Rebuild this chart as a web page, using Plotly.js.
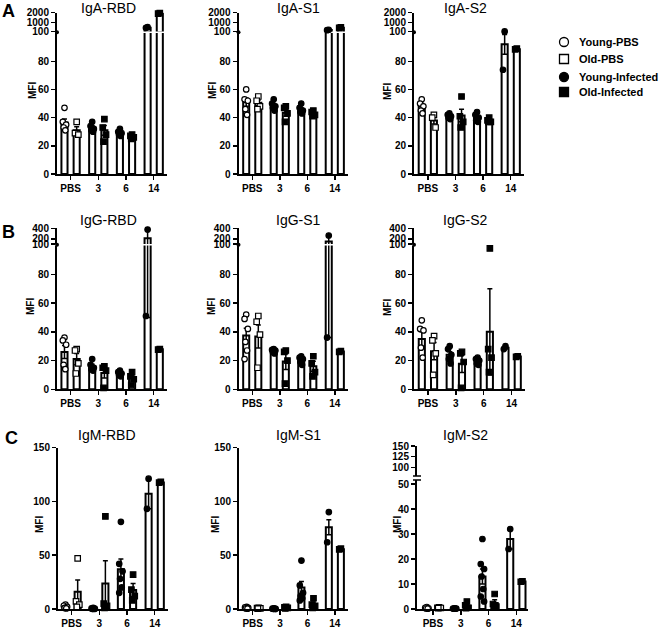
<!DOCTYPE html>
<html><head><meta charset="utf-8">
<script src="https://cdn.plot.ly/plotly-3.0.1.min.js"></script>
<style>html,body{margin:0;padding:0;background:#fff}#chart{width:660px;height:628px}</style>
</head><body><div id="chart"></div>
<script>
// ---------------- DATA ----------------
const groups = ["PBS", "3", "6", "14"];
const seriesNames = ["Young-PBS", "Old-PBS", "Young-Infected", "Old-Infected"];

// IgA-RBD
const igaRbdYoungMean = [36.5, 33, 29.2, 490];
const igaRbdYoungSem  = [2.5, 1.3, 0.9, 35];
const igaRbdYoungPts  = [[47, 37, 35, 33, 31], [37, 34, 32, 31, 30], [32, 30, 29, 28, 27], [540, 470]];
const igaRbdOldMean   = [31, 31, 26.5, 1930];
const igaRbdOldSem    = [2.5, 3.5, 1, 30];
const igaRbdOldPts    = [[37, 29, 28], [39, 33, 28, 23], [28, 27, 26, 25], [1960, 1900]];
// IgA-S1
const igaS1YoungMean = [51, 48.6, 45.8, 255];
const igaS1YoungSem  = [3, 1.5, 1.3, 20];
const igaS1YoungPts  = [[60, 53, 52, 46, 42], [53, 50, 48, 47, 45], [50, 47, 45, 44, 43], [275, 235]];
const igaS1OldMean   = [50.5, 43.5, 43, 490];
const igaS1OldSem    = [2, 2.5, 1, 25];
const igaS1OldPts    = [[55, 52, 48, 46], [48, 47, 43, 37], [45, 44, 42, 41], [515, 465]];
// IgA-S2
const igaS2YoungMean = [48, 41, 40.2, 92];
const igaS2YoungSem  = [2, 0.8, 1.2, 7];
const igaS2YoungPts  = [[53, 50, 48, 45, 43], [43, 42, 41, 40, 39], [44, 42, 40, 38, 37], [110, 74]];
const igaS2OldMean   = [38, 41.5, 38.5, 88.5];
const igaS2OldSem    = [2.5, 4.5, 1, 0.5];
const igaS2OldPts    = [[42, 40, 33], [55, 41, 37, 33], [40, 38, 37, 37], [89, 88.5]];
// IgG-RBD
const iggRbdYoungMean = [26, 16, 11, 210];
const iggRbdYoungSem  = [4.5, 1.5, 0.7, 160];
const iggRbdYoungPts  = [[36, 34, 31, 17, 14], [21, 17, 15, 14, 13], [13, 12, 11, 10, 9], [375, 51]];
const iggRbdOldMean   = [21, 11.3, 7.7, 27.8];
const iggRbdOldSem    = [4, 3.5, 2, 0.3];
const iggRbdOldPts    = [[28, 27, 18, 11], [16, 15, 13, 1], [12, 9, 7, 3], [28, 27.6]];
// IgG-S1
const iggS1YoungMean = [37.5, 26.5, 20.5, 148];
const iggS1YoungSem  = [5, 0.6, 1.2, 112];
const iggS1YoungPts  = [[52, 49, 42, 33, 27, 21], [28, 27.5, 27, 26, 25], [23, 22, 21, 19, 17], [262, 36]];
const iggS1OldMean   = [36.8, 19.3, 16, 26.3];
const iggS1OldSem    = [8, 5.5, 3.5, 0.3];
const iggS1OldPts    = [[51, 47, 38, 15], [27, 26, 20, 4], [23, 18, 12, 9], [26.6, 26]];
// IgG-S2
const iggS2YoungMean = [35, 24, 19.6, 29];
const iggS2YoungSem  = [5, 2.2, 1, 1];
const iggS2YoungPts  = [[48, 42, 41, 29, 22], [30, 28, 24, 21, 18], [22, 21, 20, 18, 17], [30, 28]];
const iggS2OldMean   = [26.5, 17.7, 40, 22.8];
const iggS2OldSem    = [6, 6, 30, 0.3];
const iggS2OldPts    = [[37, 34, 25, 10], [26, 25, 19, 1], [98, 28, 22, 12], [23, 22.6]];
// IgM-RBD
const igmRbdYoungMean = [2, 0.5, 37, 107];
const igmRbdYoungSem  = [0.7, 0.2, 9.5, 14];
const igmRbdYoungPts  = [[4, 3, 2, 1, 0.5], [1, 0.5, 0.3, 0.2, 0.1], [81, 42, 35, 28, 20, 15], [121, 93]];
const igmRbdOldMean   = [16, 23.8, 17.6, 117.6];
const igmRbdOldSem    = [11, 21, 6, 0.3];
const igmRbdOldPts    = [[47, 7, 4, 2], [86, 5, 3, 1], [32, 18, 12, 8], [118, 117.3]];
// IgM-S1
const igmS1YoungMean = [1, 0.3, 20, 76];
const igmS1YoungSem  = [0.3, 0.1, 5.5, 7];
const igmS1YoungPts  = [[2, 1.5, 1, 0.5, 0.3], [0.5, 0.3, 0.2, 0.2, 0.1], [45, 22, 15, 12, 10, 8], [90, 62]];
const igmS1OldMean   = [0.8, 1, 4.6, 55.6];
const igmS1OldSem    = [0.2, 0.4, 2, 0.3];
const igmS1OldPts    = [[1, 0.8, 0.5, 0.3], [2, 1.5, 1, 0.5], [10, 4, 3, 1], [56, 55.3]];
// IgM-S2
const igmS2YoungMean = [0.4, 0.2, 13, 28];
const igmS2YoungSem  = [0.1, 0.05, 3, 4];
const igmS2YoungPts  = [[0.8, 0.5, 0.3, 0.2, 0.1], [0.3, 0.2, 0.2, 0.1, 0.1], [28, 18, 16, 13, 8, 5, 3], [32, 24]];
const igmS2OldMean   = [0.5, 1.3, 2.4, 11];
const igmS2OldSem    = [0.1, 0.6, 1.3, 0.2];
const igmS2OldPts    = [[0.7, 0.5, 0.4, 0.3], [3, 1.5, 0.5, 0.3], [6, 2, 1, 0.5], [11.1, 10.9]];

// axis tick values
const ticksA_low = [0, 20, 40, 60, 80];
const ticksA_up  = [100, 1000, 2000];
const ticksB_low = [0, 20, 40, 60, 80];
const ticksB_up  = [100, 200, 400];
const ticksC     = [0, 50, 100, 150];
const ticksS2_low = [0, 10, 20, 30, 40, 50];
const ticksS2_up  = [100, 125, 150];

// ---------------- LAYOUT GEOMETRY (pixels) ----------------
const W = 660, H = 628;
const px = v => v / W;
const py = v => 1 - v / H;
const FONT = "Liberation Sans, Arial, Helvetica, sans-serif";

const rowA = {yZero: 174, lowTop: 33.1, upBot: 31.5, upTop: 12.7, lowRange: [0, 100], lowTicks: ticksA_low, upRange: [100, 2000], upTicks: ticksA_up, brk: 100};
const rowB = {yZero: 389.3, lowTop: 245.6, upBot: 244.0, upTop: 228.3, lowRange: [0, 100], lowTicks: ticksB_low, upRange: [100, 400], upTicks: ticksB_up, brk: 100};
const rowC = {yZero: 609, lowTop: 447.5, lowRange: [0, 150], lowTicks: ticksC};
const rowCs2 = {yZero: 609, lowTop: 480, upBot: 476, upTop: 446, lowRange: [0, 51.6], lowTicks: ticksS2_low, upRange: [80, 150], upTicks: ticksS2_up, brk: 51.6, gapMarks: true};

const panels = [
  {title: "IgA-RBD", row: rowA, x0: 57, x1: 167, xr: [-0.49, 3.48], tx: 108, ty: 8, mfi: [32, 91],
   yM: igaRbdYoungMean, yS: igaRbdYoungSem, yP: igaRbdYoungPts, oM: igaRbdOldMean, oS: igaRbdOldSem, oP: igaRbdOldPts},
  {title: "IgA-S1", row: rowA, x0: 238.5, x1: 348, xr: [-0.5, 3.48], tx: 298, ty: 8, mfi: [212, 91],
   yM: igaS1YoungMean, yS: igaS1YoungSem, yP: igaS1YoungPts, oM: igaS1OldMean, oS: igaS1OldSem, oP: igaS1OldPts},
  {title: "IgA-S2", row: rowA, x0: 414, x1: 524, xr: [-0.5, 3.48], tx: 465, ty: 8, mfi: [387, 91],
   yM: igaS2YoungMean, yS: igaS2YoungSem, yP: igaS2YoungPts, oM: igaS2OldMean, oS: igaS2OldSem, oP: igaS2OldPts},
  {title: "IgG-RBD", row: rowB, x0: 57, x1: 167, xr: [-0.49, 3.48], tx: 108, ty: 219.5, mfi: [30, 307],
   yM: iggRbdYoungMean, yS: iggRbdYoungSem, yP: iggRbdYoungPts, oM: iggRbdOldMean, oS: iggRbdOldSem, oP: iggRbdOldPts},
  {title: "IgG-S1", row: rowB, x0: 238.5, x1: 348, xr: [-0.5, 3.48], tx: 298, ty: 219.5, mfi: [211, 307],
   yM: iggS1YoungMean, yS: iggS1YoungSem, yP: iggS1YoungPts, oM: iggS1OldMean, oS: iggS1OldSem, oP: iggS1OldPts},
  {title: "IgG-S2", row: rowB, x0: 414, x1: 525, xr: [-0.5, 3.48], tx: 465, ty: 219.5, mfi: [387, 307],
   yM: iggS2YoungMean, yS: iggS2YoungSem, yP: iggS2YoungPts, oM: iggS2OldMean, oS: iggS2OldSem, oP: iggS2OldPts},
  {title: "IgM-RBD", row: rowC, x0: 58, x1: 168, xr: [-0.49, 3.48], tx: 107, ty: 434.5, mfi: [39, 525],
   yM: igmRbdYoungMean, yS: igmRbdYoungSem, yP: igmRbdYoungPts, oM: igmRbdOldMean, oS: igmRbdOldSem, oP: igmRbdOldPts},
  {title: "IgM-S1", row: rowC, x0: 239, x1: 348, xr: [-0.5, 3.48], tx: 298, ty: 434.5, mfi: [215, 525],
   yM: igmS1YoungMean, yS: igmS1YoungSem, yP: igmS1YoungPts, oM: igmS1OldMean, oS: igmS1OldSem, oP: igmS1OldPts},
  {title: "IgM-S2", row: rowCs2, x0: 417, x1: 528, xr: [-0.575, 3.42], tx: 465, ty: 434.5, mfi: [397, 525],
   yM: igmS2YoungMean, yS: igmS2YoungSem, yP: igmS2YoungPts, oM: igmS2OldMean, oS: igmS2OldSem, oP: igmS2OldPts}
];

const OFF = 0.22, BW = 0.22;
const JIT = [0, -0.06, 0.06, -0.03, 0.03, -0.06, 0.06];
const MS = 5.5;

const traces = [];
const layout = {
  width: W, height: H, margin: {l: 0, r: 0, t: 0, b: 0},
  paper_bgcolor: "#fff", plot_bgcolor: "rgba(0,0,0,0)",
  font: {family: FONT, color: "#000", size: 10},
  showlegend: false, bargap: 0,
  annotations: [], shapes: []
};

function tickFont() { return {family: FONT, size: 10, weight: "bold", color: "#000"}; }

let upperIdx = 10;
panels.forEach((p, k) => {
  const n = k + 1;
  const xs = n === 1 ? "x" : "x" + n;
  const ys = n === 1 ? "y" : "y" + n;
  const r = p.row;
  layout["xaxis" + (n === 1 ? "" : n)] = {
    domain: [px(p.x0), px(p.x1)], range: p.xr, anchor: ys,
    tickmode: "array", tickvals: groups.map((g, i) => i), ticktext: groups,
    showline: true, linewidth: 2, linecolor: "#000", ticks: "outside", ticklen: 4, tickwidth: 1.5, tickcolor: "#000",
    showgrid: false, zeroline: false, tickfont: tickFont(), fixedrange: true
  };
  layout["yaxis" + (n === 1 ? "" : n)] = {
    domain: [py(r.yZero), py(r.lowTop)], range: r.lowRange, anchor: xs,
    tickmode: "array", tickvals: r.lowTicks,
    showline: true, linewidth: 2, linecolor: "#000", ticks: "outside", ticklen: 4, tickwidth: 1.5, tickcolor: "#000",
    showgrid: false, zeroline: false, tickfont: tickFont(), fixedrange: true
  };
  let yu = null;
  if (r.upRange) {
    yu = "y" + upperIdx;
    layout["yaxis" + upperIdx] = {
      domain: [py(r.upBot), py(r.upTop)], range: r.upRange, anchor: xs,
      tickmode: "array", tickvals: r.upTicks,
      showline: true, linewidth: 2, linecolor: "#000", ticks: "outside", ticklen: 4, tickwidth: 1.5, tickcolor: "#000",
      showgrid: false, zeroline: false, tickfont: tickFont(), fixedrange: true
    };
    upperIdx++;
    if (r.gapMarks) {
      [r.lowTop, r.upBot].forEach(yy => layout.shapes.push({
        type: "line", xref: xs + " domain", yref: "paper", xsizemode: "pixel", xanchor: 0,
        x0: -4, x1: 4, y0: py(yy), y1: py(yy), line: {color: "#000", width: 1.5}
      }));
    } else {
      layout.shapes.push({
        type: "circle", xref: xs + " domain", yref: "paper", xsizemode: "pixel", ysizemode: "pixel",
        xanchor: 0, yanchor: py((r.lowTop + r.upBot) / 2), x0: -2, x1: 2, y0: -2, y1: 2,
        fillcolor: "#000", line: {width: 0}
      });
    }
    // keeps the upper segment drawn even when no value reaches it
    traces.push({type: "scatter", mode: "markers", xaxis: xs, yaxis: yu, x: [0], y: [r.upRange[1]],
      marker: {size: 1, color: "rgba(0,0,0,0)"}, showlegend: false, hoverinfo: "skip"});
  }
  const sides = [
    {mean: p.yM, sem: p.yS, pts: p.yP, off: -OFF, sym: "circle"},
    {mean: p.oM, sem: p.oS, pts: p.oP, off: OFF, sym: "square"}
  ];
  sides.forEach(s => {
    const xb = groups.map((g, i) => i + s.off);
    // lower segment bars (values above the break are cut by the axis range)
    traces.push({
      type: "bar", xaxis: xs, yaxis: ys, x: xb, y: s.mean, width: BW,
      marker: {color: "#fff", line: {color: "#000", width: 2}},
      error_y: {type: "data", array: s.sem, symmetric: true, color: "#000", thickness: 1.5, width: 2.5},
      showlegend: false, hoverinfo: "skip", cliponaxis: true
    });
    // upper segment: only bars that cross the break
    if (yu) {
      const keep = s.mean.map(v => v > r.brk);
      if (keep.some(Boolean)) {
        traces.push({
          type: "bar", xaxis: xs, yaxis: yu,
          x: xb.filter((v, i) => keep[i]), y: s.mean.filter((v, i) => keep[i]), width: BW,
          marker: {color: "#fff", line: {color: "#000", width: 2}},
          error_y: {type: "data", array: s.sem.filter((v, i) => keep[i]), symmetric: true, color: "#000", thickness: 1.5, width: 2.5},
          showlegend: false, hoverinfo: "skip", cliponaxis: true
        });
      }
    }
    // individual points
    const buckets = {};
    s.pts.forEach((vals, gi) => {
      const open = gi === 0;
      vals.forEach((v, j) => {
        const onUp = yu && v > r.brk;
        const key = (open ? "o" : "f") + (onUp ? "u" : "l");
        if (!buckets[key]) buckets[key] = {x: [], y: [], open: open, ya: onUp ? yu : ys};
        buckets[key].x.push(gi + s.off + JIT[j % JIT.length]);
        buckets[key].y.push(v);
      });
    });
    Object.values(buckets).forEach(b => {
      traces.push({
        type: "scatter", mode: "markers", xaxis: xs, yaxis: b.ya, x: b.x, y: b.y,
        marker: {symbol: s.sym, size: MS, color: b.open ? "#fff" : "#000", line: {color: "#000", width: 1.2}},
        showlegend: false, hoverinfo: "skip", cliponaxis: false
      });
    });
  });
  layout.annotations.push({text: p.title, xref: "paper", yref: "paper", x: px(p.tx), y: py(p.ty),
    xanchor: "center", yanchor: "middle", showarrow: false, font: {family: FONT, size: 14, color: "#000"}});
  layout.annotations.push({text: "MFI", xref: "paper", yref: "paper", x: px(p.mfi[0]), y: py(p.mfi[1]),
    xanchor: "center", yanchor: "middle", textangle: -90, showarrow: false,
    font: {family: FONT, size: 10, weight: "bold", color: "#000"}});
});

// panel letters
[["A", 8.5, 11], ["B", 8.5, 232], ["C", 11, 438]].forEach(l => layout.annotations.push({
  text: l[0], xref: "paper", yref: "paper", x: px(l[1]), y: py(l[2]), xanchor: "center", yanchor: "middle",
  showarrow: false, font: {family: FONT, size: 18, weight: "bold", color: "#000"}
}));

// legend (drawn as symbol + real text)
const legendSyms = [
  {shape: "circle", fill: "#fff"}, {shape: "rect", fill: "#fff"},
  {shape: "circle", fill: "#000"}, {shape: "rect", fill: "#000"}
];
const legendRowsY = [42, 59, 77, 92];
seriesNames.forEach((nm, i) => {
  const yc = legendRowsY[i];
  layout.shapes.push({
    type: legendSyms[i].shape, xref: "paper", yref: "paper", xsizemode: "pixel", ysizemode: "pixel",
    xanchor: px(564), yanchor: py(yc), x0: -4.5, x1: 4.5, y0: -4.5, y1: 4.5,
    fillcolor: legendSyms[i].fill, line: {color: "#000", width: 1.3}
  });
  layout.annotations.push({
    text: nm, xref: "paper", yref: "paper", x: px(577), y: py(yc), xanchor: "left", yanchor: "middle",
    showarrow: false, font: {family: FONT, size: 11, weight: "bold", color: "#000"}
  });
});

Plotly.newPlot("chart", traces, layout, {displayModeBar: false, staticPlot: true});
</script>
</body></html>
